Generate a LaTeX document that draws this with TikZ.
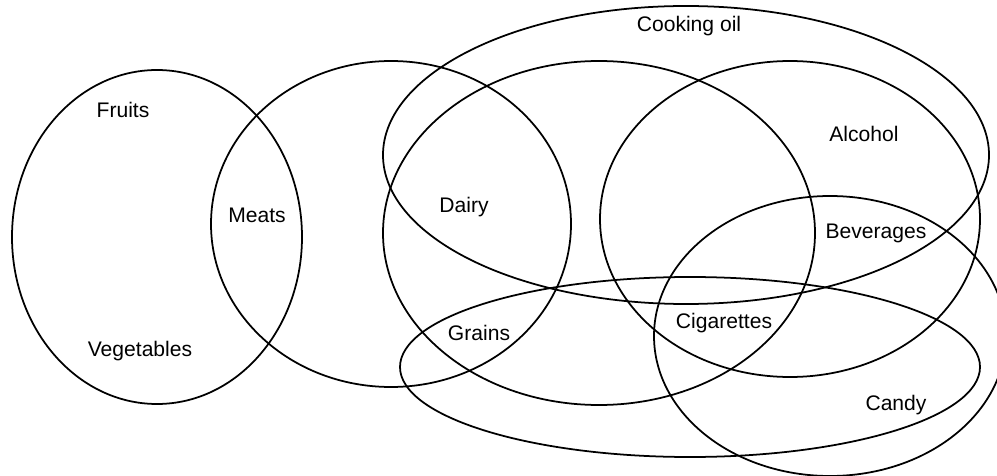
\documentclass[tikz,border=0pt]{standalone}
\usepackage{fontspec}
\setmainfont{Liberation Sans}

\begin{document}
\begin{tikzpicture}[
  x=0.02cm, y=0.02cm,
  set/.style={draw=black, line width=1pt},
  lbl/.style={font=\fontsize{12}{14}\selectfont, inner sep=0pt}
]
\useasboundingbox (0,-476) rectangle (997,0);
\clip (0,-476) rectangle (997,0);

% Sets
\draw[set] (157,-237) ellipse [x radius=145, y radius=167]; % fruits and vegetables
\draw[set] (391,-224) ellipse [x radius=180, y radius=163]; % meats
\draw[set] (686,-155) ellipse [x radius=303, y radius=149]; % cooking oil
\draw[set] (599,-233) ellipse [x radius=216, y radius=172]; % dairy
\draw[set] (790,-219) ellipse [x radius=190, y radius=158]; % alcohol
\draw[set] (690,-367) ellipse [x radius=290, y radius=90];  % grains
\draw[set] (830,-336) ellipse [x radius=176, y radius=140]; % candy

% Labels
\node[lbl] (fruits) at (123,-110) {Fruits};
\node[lbl] (vegetables) at (140,-351) {Vegetables};
\node[lbl] (meats) at (257,-215) {Meats};
\node[lbl] (dairy) at (464,-207) {Dairy};
\node[lbl] (grains) at (479,-333) {Grains};
\node[lbl] (oil) at (689,-26) {Cooking oil};
\node[lbl] (alcohol) at (864,-134) {Alcohol};
\node[lbl] (beverages) at (876,-233) {Beverages};
\node[lbl] (cigarettes) at (724,-323) {Cigarettes};
\node[lbl] (candy) at (896,-405) {Candy};

\end{tikzpicture}
\end{document}
